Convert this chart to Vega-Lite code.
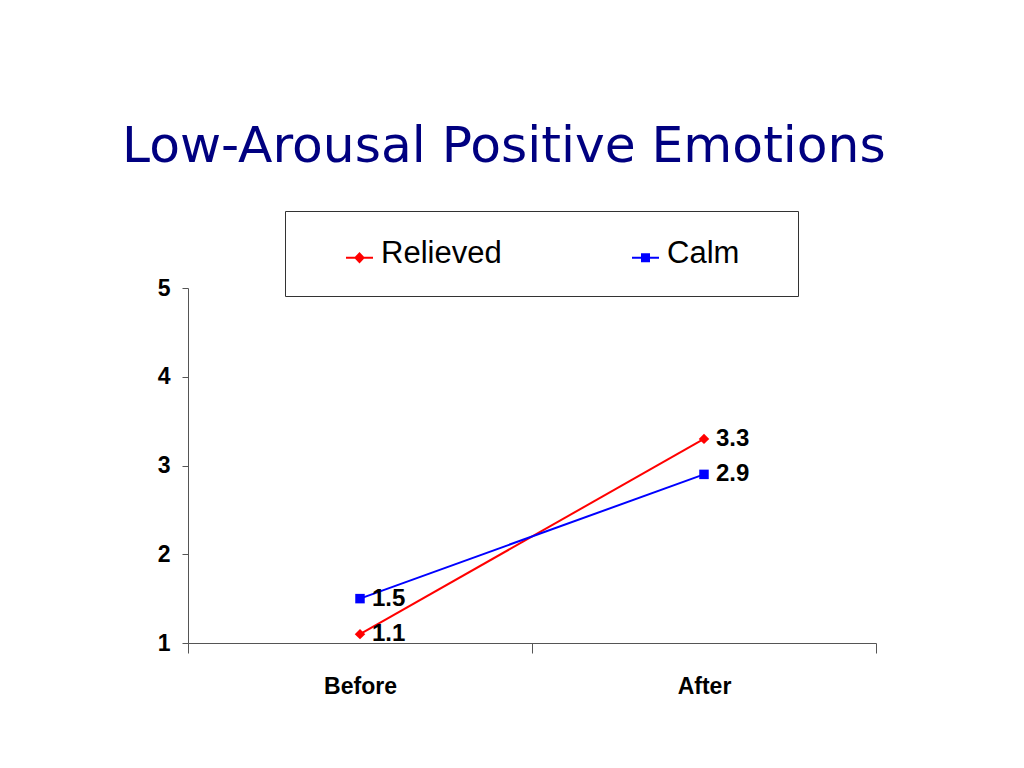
{
  "$schema": "https://vega.github.io/schema/vega-lite/v6.json",
  "width": 688,
  "height": 355,
  "autosize": {"type": "none"},
  "padding": {"left": 188, "top": 288, "right": 148, "bottom": 125},
  "background": "white",
  "config": {"view": {"stroke": null}},
  "title": {
    "text": "Low-Arousal Positive Emotions",
    "anchor": "start",
    "frame": "group",
    "dx": -66,
    "dy": 48,
    "offset": 46,
    "baseline": "alphabetic",
    "font": "DejaVu Sans",
    "fontSize": 50.3,
    "fontWeight": "normal",
    "color": "#000080"
  },
  "data": {
    "values": [
      {"time": "Before", "series": "Relieved", "value": 1.1},
      {"time": "After", "series": "Relieved", "value": 3.3},
      {"time": "Before", "series": "Calm", "value": 1.5},
      {"time": "After", "series": "Calm", "value": 2.9}
    ]
  },
  "encoding": {
    "x": {
      "field": "time",
      "type": "nominal",
      "sort": ["Before", "After"],
      "scale": {"type": "band", "paddingInner": 0, "paddingOuter": 0},
      "axis": {
        "title": null,
        "labelAngle": 0,
        "tickBand": "extent",
        "tickSize": 10,
        "labelPadding": 22,
        "labelFont": "Liberation Sans",
        "labelFontWeight": "bold",
        "labelFontSize": 23,
        "labelColor": "black",
        "domainColor": "#555",
        "tickColor": "#555",
        "grid": false
      }
    },
    "y": {
      "field": "value",
      "type": "quantitative",
      "scale": {"domain": [1, 5], "nice": false, "zero": false},
      "axis": {
        "title": null,
        "values": [1, 2, 3, 4, 5],
        "tickSize": 6,
        "labelPadding": 12,
        "labelFont": "Liberation Sans",
        "labelFontWeight": "bold",
        "labelFontSize": 23,
        "labelColor": "black",
        "domainColor": "#555",
        "tickColor": "#555",
        "grid": false
      }
    },
    "color": {
      "field": "series",
      "type": "nominal",
      "scale": {"domain": ["Relieved", "Calm"], "range": ["#ff0000", "#0000ff"]},
      "legend": {
        "orient": "none",
        "legendX": 97,
        "legendY": -77,
        "direction": "horizontal",
        "columns": 2,
        "title": null,
        "strokeColor": "#333",
        "fillColor": "white",
        "padding": 27,
        "symbolSize": 729,
        "symbolStrokeWidth": 2,
        "symbolOffset": 32,
        "symbolType": "M-1,0H1",
        "labelFont": "Liberation Sans",
        "labelFontSize": 31,
        "labelOffset": 6,
        "labelColor": "black",
        "labelLimit": 300,
        "labelExpr": "datum.label === 'Calm' ? 'Calm\u2002\u2002\u200b' : datum.label",
        "columnPadding": 96,
        "encode": {
          "symbols": {
            "update": {
              "shape": {"signal": "datum.value === 'Relieved' ? 'M-1,0.3H1M-0.3,0.3L0,-0.02L0.3,0.3L0,0.62Z' : 'M-1,0.3H1M-0.26,0.04H0.26V0.56H-0.26Z'"},
              "fill": {"signal": "datum.value === 'Relieved' ? '#ff0000' : '#0000ff'"},
              "stroke": {"signal": "datum.value === 'Relieved' ? '#ff0000' : '#0000ff'"}
            }
          }
        }
      }
    }
  },
  "layer": [
    {"mark": {"type": "line", "strokeWidth": 2}},
    {
      "transform": [{"filter": "datum.series === 'Relieved'"}],
      "mark": {"type": "point", "shape": "diamond", "filled": true, "opacity": 1, "size": 110}
    },
    {
      "transform": [{"filter": "datum.series === 'Calm'"}],
      "mark": {"type": "point", "shape": "square", "filled": true, "opacity": 1, "size": 90}
    },
    {
      "mark": {
        "type": "text",
        "align": "left",
        "baseline": "middle",
        "dx": 12,
        "font": "Liberation Sans",
        "fontWeight": "bold",
        "fontSize": 24
      },
      "encoding": {
        "text": {"field": "value", "type": "quantitative"},
        "color": {"value": "black"}
      }
    }
  ]
}
